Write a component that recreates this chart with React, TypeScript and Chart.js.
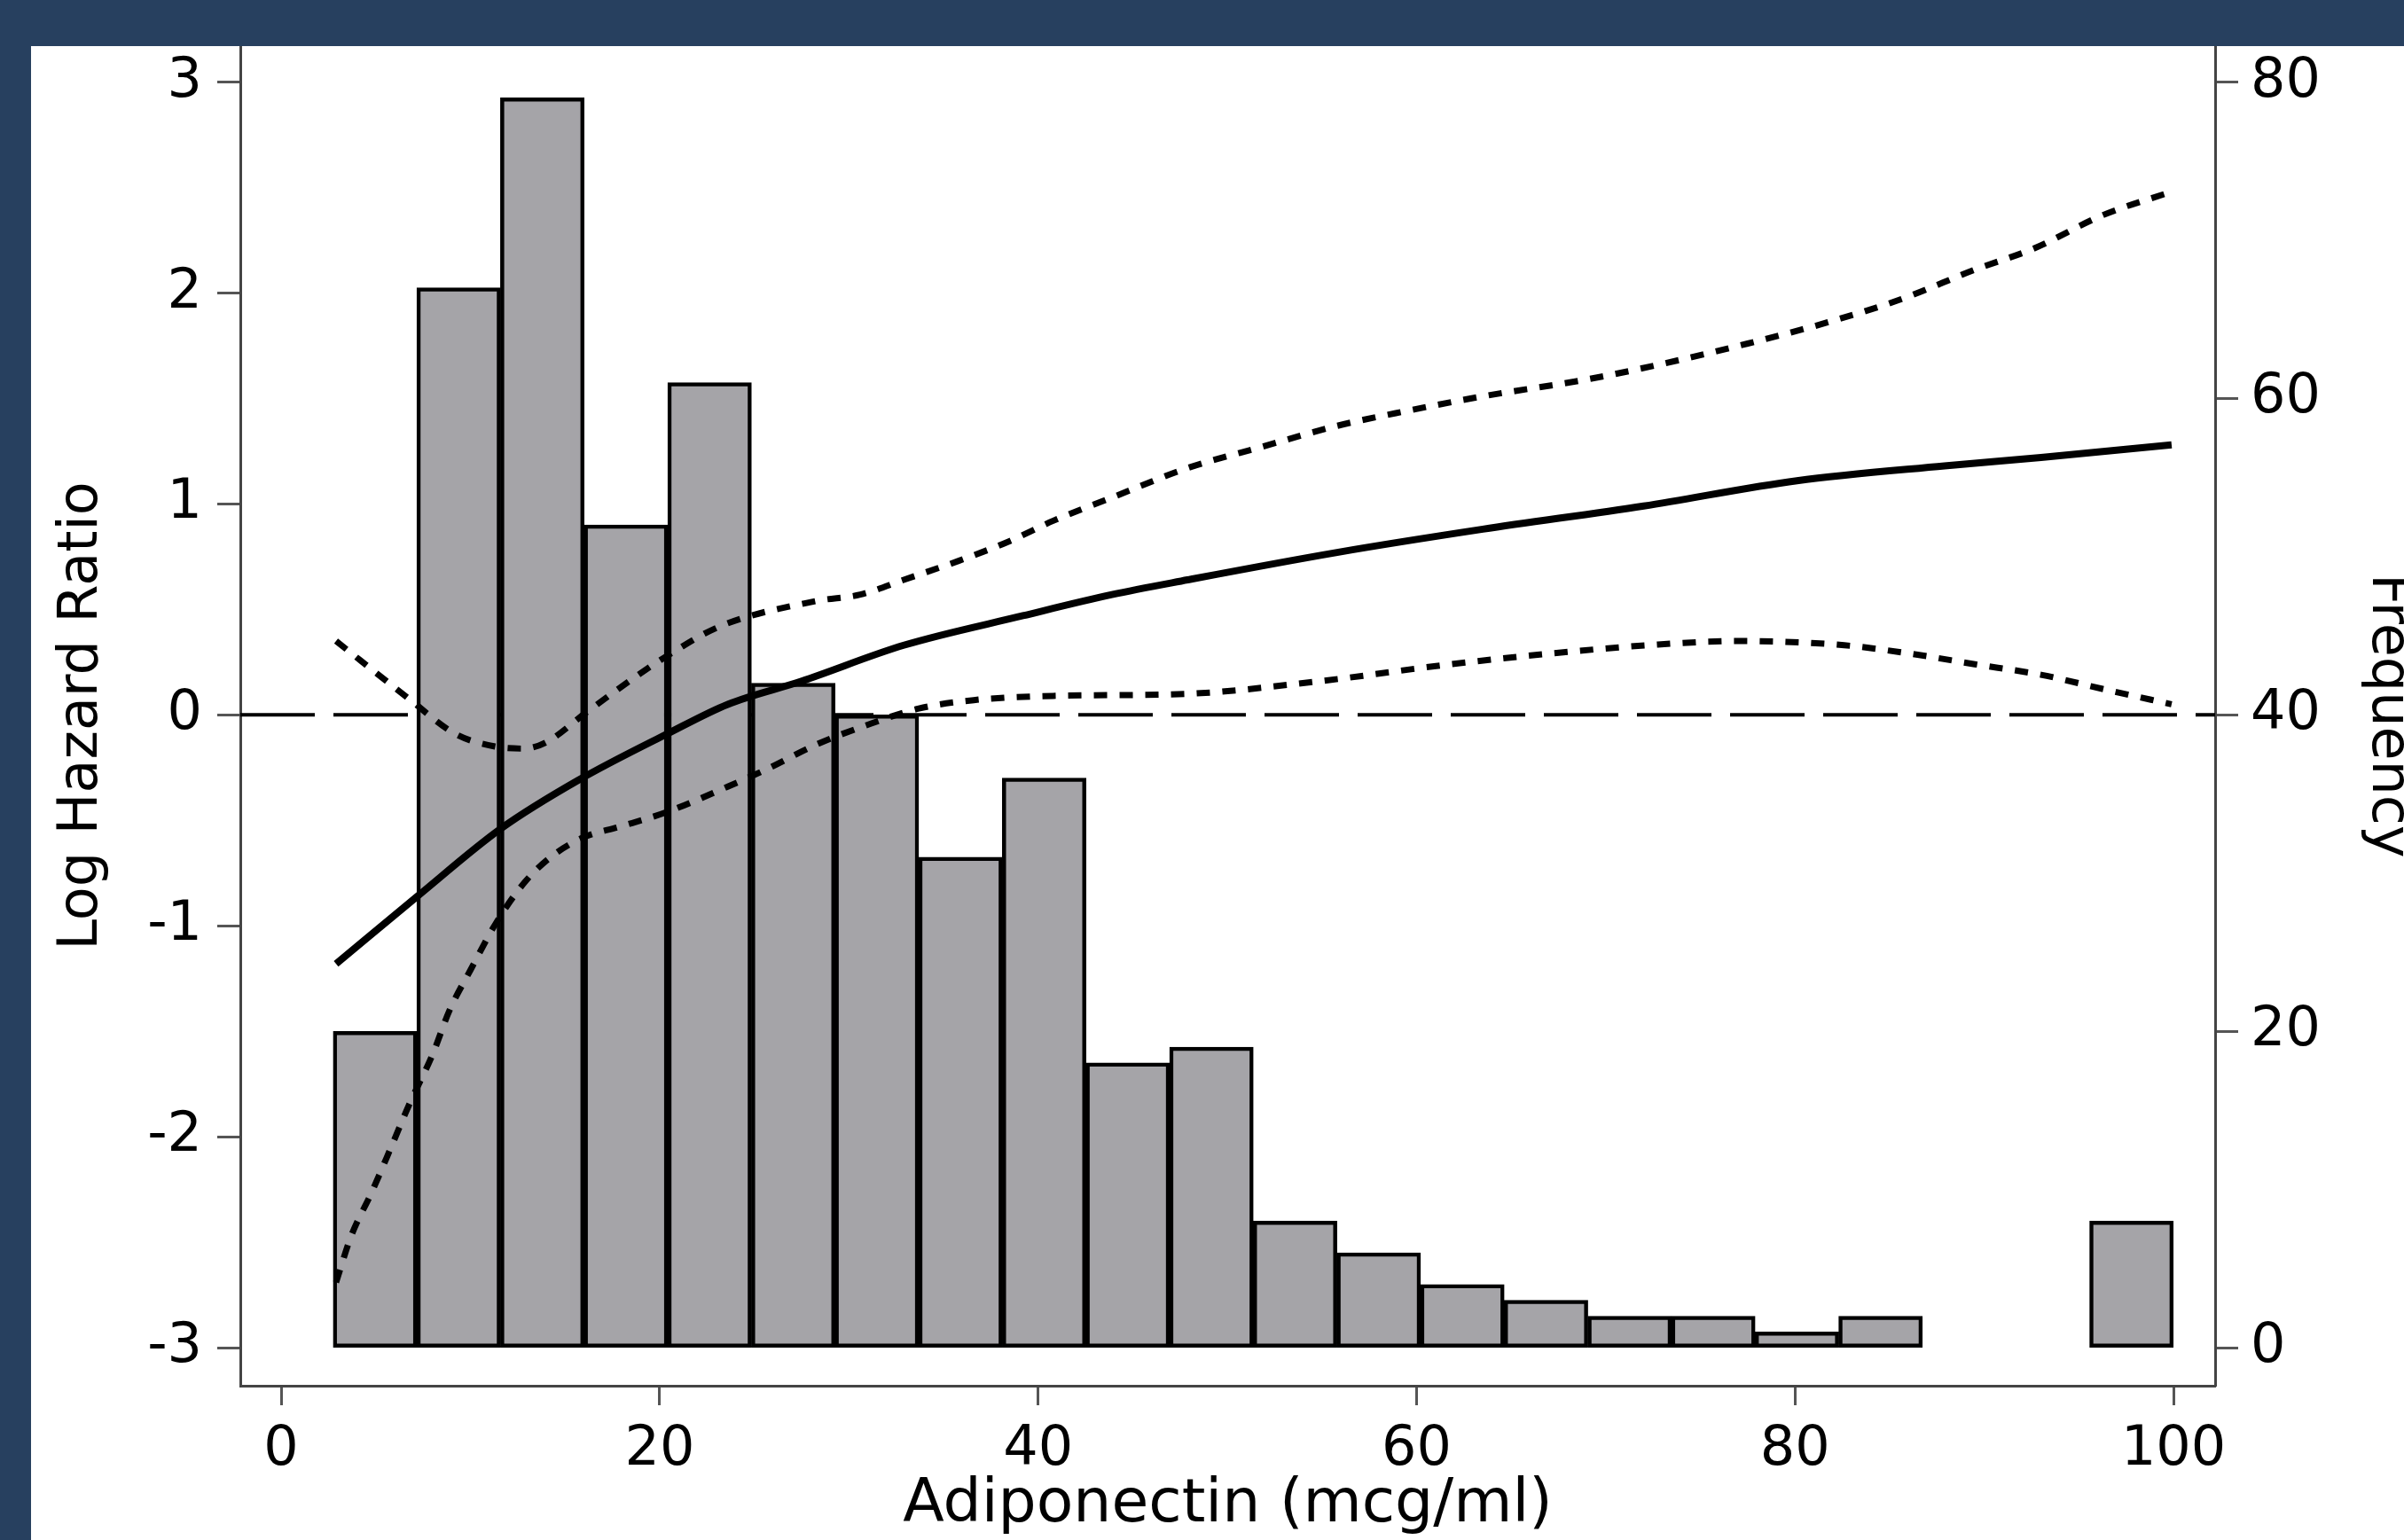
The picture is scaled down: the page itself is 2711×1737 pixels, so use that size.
import React, { useEffect, useRef } from "react";
import { Chart, registerables } from "chart.js";

Chart.register(...registerables);

// ---------- data ----------
const binCenters = [4.96, 9.38, 13.8, 18.22, 22.64, 27.06, 31.48, 35.9, 40.32, 44.74, 49.16, 53.58, 58.0, 62.42, 66.84, 71.26, 75.68, 80.1, 84.52, 88.94, 93.36, 97.78];
const frequencies = [20, 67, 79, 52, 61, 42, 40, 31, 36, 18, 19, 8, 6, 4, 3, 2, 2, 1, 2, null, null, 8];

const fitX = [2.9, 7.2, 11.6, 15.7, 20.4, 23.6, 27.5, 32.9, 39.2, 43.9, 47.9, 55.8, 63.5, 72.0, 80.1, 87.9, 93.0, 99.9];
const fitLogHR = [-1.18, -0.86, -0.54, -0.31, -0.09, 0.05, 0.16, 0.33, 0.47, 0.57, 0.64, 0.77, 0.88, 0.99, 1.11, 1.18, 1.22, 1.28];

const upperX = [2.9, 6.7, 9.2, 11.3, 12.8, 14.0, 16.1, 18.4, 20.4, 23.2, 28.3, 30.6, 32.9, 35.8, 38.4, 40.8, 43.9, 47.9, 51.8, 55.8, 58.9, 63.5, 69.0, 72.8, 77.5, 81.7, 85.6, 89.5, 92.6, 96.3, 99.9];
const upperCI = [0.35, 0.08, -0.09, -0.15, -0.16, -0.13, 0.01, 0.16, 0.28, 0.42, 0.54, 0.57, 0.64, 0.73, 0.82, 0.92, 1.03, 1.17, 1.27, 1.37, 1.43, 1.51, 1.59, 1.66, 1.76, 1.86, 1.97, 2.11, 2.21, 2.37, 2.48];

const lowerX = [2.9, 3.7, 4.8, 5.9, 6.8, 8.0, 8.9, 10.0, 11.4, 12.9, 14.3, 16.0, 17.9, 20.4, 23.6, 25.6, 28.3, 30.9, 33.7, 36.6, 40.8, 47.9, 54.9, 61.8, 67.0, 72.2, 77.0, 82.6, 86.1, 89.5, 93.0, 96.4, 99.9];
const lowerCI = [-2.69, -2.47, -2.26, -2.03, -1.84, -1.61, -1.4, -1.21, -0.98, -0.79, -0.67, -0.58, -0.53, -0.46, -0.34, -0.26, -0.14, -0.05, 0.03, 0.07, 0.09, 0.1, 0.16, 0.24, 0.29, 0.33, 0.35, 0.33, 0.29, 0.24, 0.19, 0.12, 0.05];

const xTicks = [0, 20, 40, 60, 80, 100];
const logHRTicks = [-3, -2, -1, 0, 1, 2, 3];
const freqTicks = [0, 20, 40, 60, 80];

const X_MIN = -2.16;
const X_MAX = 102.2;
const Y_MIN = -3.18;
const Y_MAX = 3.17;
const F_MIN = ((Y_MIN + 3) * 80) / 6;
const F_MAX = ((Y_MAX + 3) * 80) / 6;

const referenceX = [X_MIN, X_MAX];
const referenceY = [0, 0];

// ---------- styles ----------
const NAVY = "#27405F";
const BAR_FILL = "#A5A4A8";
const FONT = "'DejaVu Sans', sans-serif";
const CANVAS_W = 2694;
const CANVAS_H = 1685;

const pts = (xs: number[], ys: (number | null)[]) => xs.map((x, i) => ({ x, y: ys[i] }));

export default function App() {
  const ref = useRef<HTMLCanvasElement>(null);

  useEffect(() => {
    const canvas = ref.current;
    if (!canvas) return;

    const tickFont = { family: FONT, size: 62 };
    const gridCommon = {
      drawOnChartArea: false,
      drawTicks: true,
      offset: false,
      tickWidth: 3,
      tickColor: "#555",
    };
    const borderCommon = { display: true, color: "#444", width: 3 };

    const chart = new Chart(canvas, {
      type: "bar",
      data: {
        datasets: [
          {
            type: "line",
            label: "Log hazard ratio",
            data: pts(fitX, fitLogHR),
            yAxisID: "y",
            borderColor: "#000",
            borderWidth: 8,
            pointRadius: 0,
            cubicInterpolationMode: "monotone",
            order: 0,
          },
          {
            type: "line",
            label: "Upper 95% CI",
            data: pts(upperX, upperCI),
            yAxisID: "y",
            borderColor: "#000",
            borderWidth: 7,
            borderDash: [15, 14],
            borderCapStyle: "butt",
            pointRadius: 0,
            cubicInterpolationMode: "monotone",
            order: 0,
          },
          {
            type: "line",
            label: "Lower 95% CI",
            data: pts(lowerX, lowerCI),
            yAxisID: "y",
            borderColor: "#000",
            borderWidth: 7,
            borderDash: [15, 14],
            borderCapStyle: "butt",
            pointRadius: 0,
            cubicInterpolationMode: "monotone",
            order: 0,
          },
          {
            type: "bar",
            label: "Frequency",
            data: pts(binCenters, frequencies),
            yAxisID: "y1",
            backgroundColor: BAR_FILL,
            borderColor: "#000",
            borderWidth: 4.5,
            borderSkipped: false,
            barPercentage: 1,
            categoryPercentage: 1,
            order: 1,
          },
          {
            type: "line",
            label: "Reference",
            data: pts(referenceX, referenceY),
            yAxisID: "y",
            borderColor: "#000",
            borderWidth: 4,
            borderDash: [84, 21],
            pointRadius: 0,
            order: 2,
          },
        ],
      } as any,
      options: {
        responsive: false,
        animation: false,
        events: [],
        layout: { padding: 0 },
        plugins: {
          legend: { display: false },
          tooltip: { enabled: false },
        },
        scales: {
          x: {
            type: "linear",
            position: "bottom",
            min: X_MIN,
            max: X_MAX,
            offset: false,
            afterBuildTicks: (s: any) => {
              s.ticks = xTicks.map((v) => ({ value: v }));
            },
            afterFit: (s: any) => {
              s.height = CANVAS_H - 1511;
              s.paddingLeft = 0;
              s.paddingRight = 0;
            },
            ticks: {
              font: tickFont,
              color: "#000",
              padding: 14,
              maxRotation: 0,
              autoSkip: false,
              callback: (v: any) => String(v),
            },
            grid: { ...gridCommon, tickLength: 22 },
            border: borderCommon,
            title: {
              display: true,
              text: "Adiponectin (mcg/ml)",
              color: "#000",
              font: { family: FONT, size: 68, lineHeight: 1.13 },
              padding: { top: 0, bottom: 0 },
            },
          },
          y: {
            type: "linear",
            position: "left",
            min: Y_MIN,
            max: Y_MAX,
            afterBuildTicks: (s: any) => {
              s.ticks = logHRTicks.map((v) => ({ value: v }));
            },
            afterFit: (s: any) => {
              s.width = 236;
              s.paddingTop = 0;
              s.paddingBottom = 0;
            },
            ticks: {
              font: tickFont,
              color: "#000",
              padding: 17,
              autoSkip: false,
              callback: (v: any) => String(v),
            },
            grid: { ...gridCommon, tickLength: 26 },
            border: borderCommon,
            title: {
              display: true,
              text: "Log Hazard Ratio",
              color: "#000",
              font: { family: FONT, size: 62 },
              padding: { top: 21, bottom: 0 },
            },
          },
          y1: {
            type: "linear",
            position: "right",
            min: F_MIN,
            max: F_MAX,
            afterBuildTicks: (s: any) => {
              s.ticks = freqTicks.map((v) => ({ value: v }));
            },
            afterFit: (s: any) => {
              s.width = CANVAS_W - 2463;
              s.paddingTop = 0;
              s.paddingBottom = 0;
            },
            ticks: {
              font: tickFont,
              color: "#000",
              padding: 14,
              autoSkip: false,
              callback: (v: any) => String(v),
            },
            grid: { ...gridCommon, tickLength: 26 },
            border: borderCommon,
            title: {
              display: true,
              text: "Frequency",
              color: "#000",
              font: { family: FONT, size: 62 },
              padding: { top: 0, bottom: 0 },
            },
          },
        },
      } as any,
    });

    return () => chart.destroy();
  }, []);

  return (
    <div
      style={{
        position: "fixed",
        left: 0,
        top: 0,
        width: 2711,
        height: 1737,
        background: NAVY,
        overflow: "hidden",
      }}
    >
      <div
        style={{
          position: "absolute",
          left: 35,
          top: 52,
          right: 0,
          bottom: 0,
          background: "#fff",
          overflow: "hidden",
        }}
      >
        <canvas
          ref={ref}
          width={CANVAS_W}
          height={CANVAS_H}
          style={{ display: "block", width: CANVAS_W, height: CANVAS_H }}
        />
      </div>
    </div>
  );
}
